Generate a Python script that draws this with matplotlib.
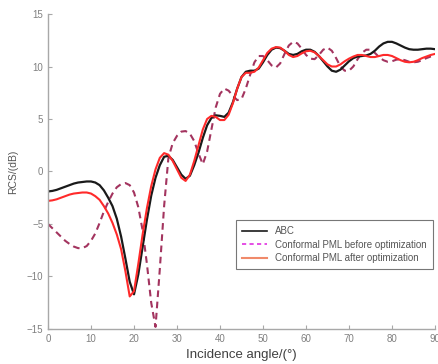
import matplotlib
matplotlib.use("Agg")
import matplotlib.pyplot as plt
from matplotlib.lines import Line2D

plt.rcParams['font.family'] = ['Liberation Sans', 'DejaVu Sans']

angle = list(range(0, 91))

abc = [-1.9, -1.85, -1.75, -1.6, -1.45, -1.3, -1.15, -1.05, -1.0, -0.95,
       -0.95, -1.05, -1.3, -1.8, -2.5, -3.3, -4.5, -6.2, -8.3, -10.5,
       -11.7, -9.8, -7.2, -4.6, -2.3, -0.6, 0.6, 1.4, 1.5, 1.1,
       0.4, -0.3, -0.7, -0.4, 0.6, 1.8, 3.2, 4.4, 5.1, 5.35,
       5.3, 5.2, 5.6, 6.6, 7.9, 9.0, 9.5, 9.6, 9.6, 9.8,
       10.4, 11.1, 11.6, 11.8, 11.75, 11.5, 11.2, 11.1, 11.2, 11.45,
       11.6, 11.6, 11.4, 11.0, 10.5, 10.0, 9.6, 9.5, 9.7, 10.1,
       10.5, 10.8, 10.95, 11.0, 11.05, 11.2, 11.5, 11.9, 12.2, 12.35,
       12.35, 12.2, 12.0, 11.8, 11.65, 11.6, 11.6, 11.65, 11.7, 11.7,
       11.65]

pml_before = [-5.0, -5.4, -5.8, -6.2, -6.6, -6.9, -7.15, -7.3, -7.3, -7.1,
              -6.6, -5.9, -4.9, -3.8, -2.9, -2.1, -1.5, -1.2, -1.1, -1.3,
              -2.0, -3.4, -5.6, -8.8, -12.5, -14.8, -9.3, -3.3, 1.3, 2.7,
              3.4, 3.8, 3.85, 3.6, 2.9, 1.7, 0.7, 1.9, 4.0, 6.1,
              7.4, 7.9, 7.7, 7.2, 6.8, 6.9, 7.9, 9.2, 10.4, 11.0,
              11.0, 10.6, 10.1, 9.9, 10.3, 11.2, 12.0, 12.35, 12.2, 11.7,
              11.1, 10.75, 10.7, 11.1, 11.6, 11.8, 11.5, 10.8, 10.0, 9.6,
              9.6, 10.0, 10.7, 11.3, 11.6, 11.6, 11.3, 10.9, 10.6, 10.45,
              10.5, 10.65, 10.7, 10.6, 10.45, 10.4, 10.45, 10.6, 10.8, 10.95,
              11.0]

pml_after = [-2.8, -2.75, -2.65, -2.5, -2.35, -2.2, -2.1, -2.05, -2.0, -2.0,
             -2.1, -2.35, -2.7, -3.3, -4.0, -4.9, -6.0, -7.4, -9.5, -11.9,
             -11.4, -8.8, -6.0, -3.5, -1.4, 0.2, 1.3, 1.75, 1.6, 1.0,
             0.2, -0.6, -0.9, -0.3, 1.0, 2.5, 4.0, 5.0, 5.3, 5.2,
             4.9, 4.9, 5.4, 6.5, 7.9, 9.0, 9.4, 9.4, 9.5, 9.9,
             10.6, 11.3, 11.7, 11.85, 11.8, 11.5, 11.1, 10.9, 11.0, 11.25,
             11.45, 11.5, 11.35, 11.0, 10.6, 10.2, 10.0, 10.0, 10.2, 10.5,
             10.75, 10.95, 11.1, 11.1, 11.0, 10.9, 10.9, 11.0, 11.1, 11.1,
             11.0, 10.8, 10.6, 10.45, 10.4, 10.45, 10.6, 10.8, 10.95, 11.1,
             11.2]

labels = ["ABC", "Conformal PML before optimization", "Conformal PML after optimization"]
xticks = [0, 10, 20, 30, 40, 50, 60, 70, 80, 90]
yticks = [-15, -10, -5, 0, 5, 10, 15]

fig = plt.figure(figsize=(4.38, 3.64), dpi=100)
ax = fig.add_axes([0.1096, 0.0962, 0.8836, 0.8653])

ax.plot(angle, pml_before, color='#a3345f', lw=1.5, dashes=(3.2, 2.2))
ax.plot(angle, abc, color='#1a1a1a', lw=1.6)
ax.plot(angle, pml_after, color='#ff2a2a', lw=1.5)

ax.set_xlim(0, 90)
ax.set_ylim(-15, 15)
ax.set_xticks(xticks)
ax.set_yticks(yticks)
for s in ['top', 'right']:
    ax.spines[s].set_visible(False)
for s in ['left', 'bottom']:
    ax.spines[s].set_color('#a8a8a8')
    ax.spines[s].set_linewidth(1.0)
ax.tick_params(direction='in', length=3, width=0.8, color='#a8a8a8',
               labelsize=7, labelcolor='#808080')
ax.set_xlabel("Incidence angle/(°)", fontsize=9.5, color='#404040', labelpad=4)
ax.set_ylabel("RCS/(dB)", fontsize=7.5, color='#555555', labelpad=6)

handles = [Line2D([0], [0], color='#1a1a1a', lw=1.2),
           Line2D([0], [0], color='#e030e0', lw=1.2, dashes=(2.5, 2)),
           Line2D([0], [0], color='#f08a6a', lw=1.5)]
leg = ax.legend(handles, labels, loc='upper left', bbox_to_anchor=(0.472, 0.362),
                fontsize=7, frameon=True, fancybox=False, handlelength=2.6,
                borderpad=0.65, labelspacing=0.35, handletextpad=0.8)
leg.get_frame().set_edgecolor('#555555')
leg.get_frame().set_linewidth(0.8)
for t in leg.get_texts():
    t.set_color('#555555')

fig.savefig("out.png", dpi=100)
